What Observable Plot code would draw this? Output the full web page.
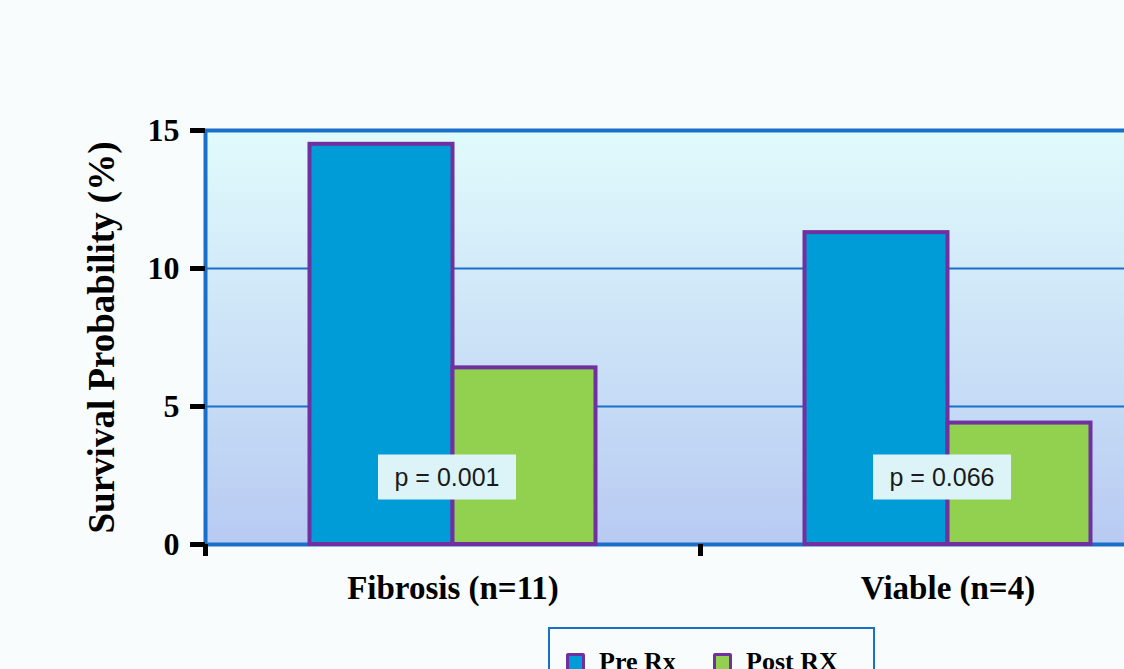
<!DOCTYPE html>
<html>
<head>
<meta charset="utf-8">
<script src="https://cdn.jsdelivr.net/npm/d3@7"></script>
<script src="https://cdn.jsdelivr.net/npm/@observablehq/plot@0.6"></script>
<style>
  html, body { margin: 0; padding: 0; background: #f8fcfd; overflow: hidden; }
  #wrap { position: relative; width: 1124px; height: 669px; overflow: hidden; }
  #chart svg { display: block; overflow: visible; max-width: none !important; width: 1200px !important; height: 614px !important; }
  #legend {
    position: absolute; left: 548px; top: 627px; width: 323px; height: 60px;
    border: 2px solid #1a6fcb; box-sizing: content-box;
    font-family: "Liberation Serif", "Times New Roman", serif; font-weight: bold; font-size: 26px;
    color: #000;
  }
  #legend .item { position: absolute; top: 18px; display: flex; align-items: center; line-height: 30px; }
  #legend .sw { width: 13px; height: 13px; border: 3px solid #7030a0; border-radius: 2px; margin-right: 14px; }
</style>
</head>
<body>
<div id="wrap">
  <div id="chart"></div>
  <div id="legend"></div>
</div>
<script>
// Survival probability before and after treatment, by histology group
const groups = ["Fibrosis (n=11)", "Viable (n=4)"];
const series = ["Pre Rx", "Post RX"];
const preRx = [14.5, 11.3];
const postRx = [6.4, 4.4];
const pValues = ["p = 0.001", "p = 0.066"];
const yTicks = [0, 5, 10, 15];
const gridValues = [5, 10];

const seriesColors = ["#009cd8", "#92d050"];
const outline = "#7030a0";
const axisBlue = "#1a6fcb";

const width = 1200, height = 614;
const marginLeft = 205, marginRight = 5, marginTop = 130, marginBottom = 70;
const band = (width - marginLeft - marginRight) / groups.length;
const barWidth = 143;

const preRows = groups.map((g, i) => ({group: g, series: series[0], value: preRx[i]}));
const postRows = groups.map((g, i) => ({group: g, series: series[1], value: postRx[i]}));
const pRows = groups.map((g, i) => ({group: g, label: pValues[i]}));

const serif = "'Liberation Serif', 'Times New Roman', serif";

// rectangle behind each p-value label
const labelBox = {draw(ctx) { ctx.rect(-69, -22.5, 138, 45); }};

const plot = Plot.plot({
  width, height, marginLeft, marginRight, marginTop, marginBottom,
  style: {fontFamily: serif, fontWeight: "bold", fontSize: "32px", color: "#000", background: "transparent"},
  x: {type: "band", domain: groups, padding: 0, label: null},
  y: {domain: [0, 15], ticks: yTicks, label: null},
  marks: [
    () => {
      const defs = d3.create("svg:defs");
      const g = defs.append("linearGradient").attr("id", "plotBg")
        .attr("x1", 0).attr("y1", 0).attr("x2", 0).attr("y2", 1);
      g.append("stop").attr("offset", "0%").attr("stop-color", "#e0fbfc");
      g.append("stop").attr("offset", "100%").attr("stop-color", "#b8caf2");
      return defs.node();
    },
    Plot.frame({fill: "url(#plotBg)"}),
    Plot.ruleY(gridValues, {stroke: axisBlue, strokeWidth: 2}),
    Plot.frame({stroke: axisBlue, strokeWidth: 4}),
    Plot.barY(preRows, {
      x: "group", y: "value", fill: seriesColors[0], stroke: outline, strokeWidth: 4,
      insetLeft: band / 2 - barWidth, insetRight: band / 2
    }),
    Plot.barY(postRows, {
      x: "group", y: "value", fill: seriesColors[1], stroke: outline, strokeWidth: 4,
      insetLeft: band / 2, insetRight: band / 2 - barWidth
    }),
    Plot.dot(pRows, {x: "group", y: 2.45, dx: -6, symbol: labelBox, fill: "#dcf4f8", stroke: "none"}),
    Plot.text(pRows, {
      x: "group", y: 2.45, dx: -6, dy: 1, text: "label",
      fontFamily: "'Liberation Sans', Arial, sans-serif", fontWeight: "normal", fontSize: 25,
      fill: "#1a1a1a"
    }),
    Plot.axisY({ticks: yTicks, tickSize: 15, tickPadding: 11, strokeWidth: 5, stroke: "#000", label: null}),
    Plot.axisX({tickSize: 0, tickPadding: 31, fontSize: 33, label: null}),
    Plot.axisX({tickSize: 12, strokeWidth: 5, stroke: "#000", text: null, dx: -band / 2, label: null}),
    Plot.text(["Survival Probability (%)"], {
      frameAnchor: "left", textAnchor: "middle", dx: -103, rotate: -90, fontSize: 37, fontWeight: "bold"
    })
  ]
});
document.getElementById("chart").appendChild(plot);

// legend
const legend = document.getElementById("legend");
const legendX = [16, 163];
series.forEach((s, i) => {
  const item = document.createElement("div");
  item.className = "item";
  item.style.left = legendX[i] + "px";
  const sw = document.createElement("div");
  sw.className = "sw";
  sw.style.background = seriesColors[i];
  const lbl = document.createElement("span");
  lbl.textContent = s;
  item.appendChild(sw);
  item.appendChild(lbl);
  legend.appendChild(item);
});
</script>
</body>
</html>
